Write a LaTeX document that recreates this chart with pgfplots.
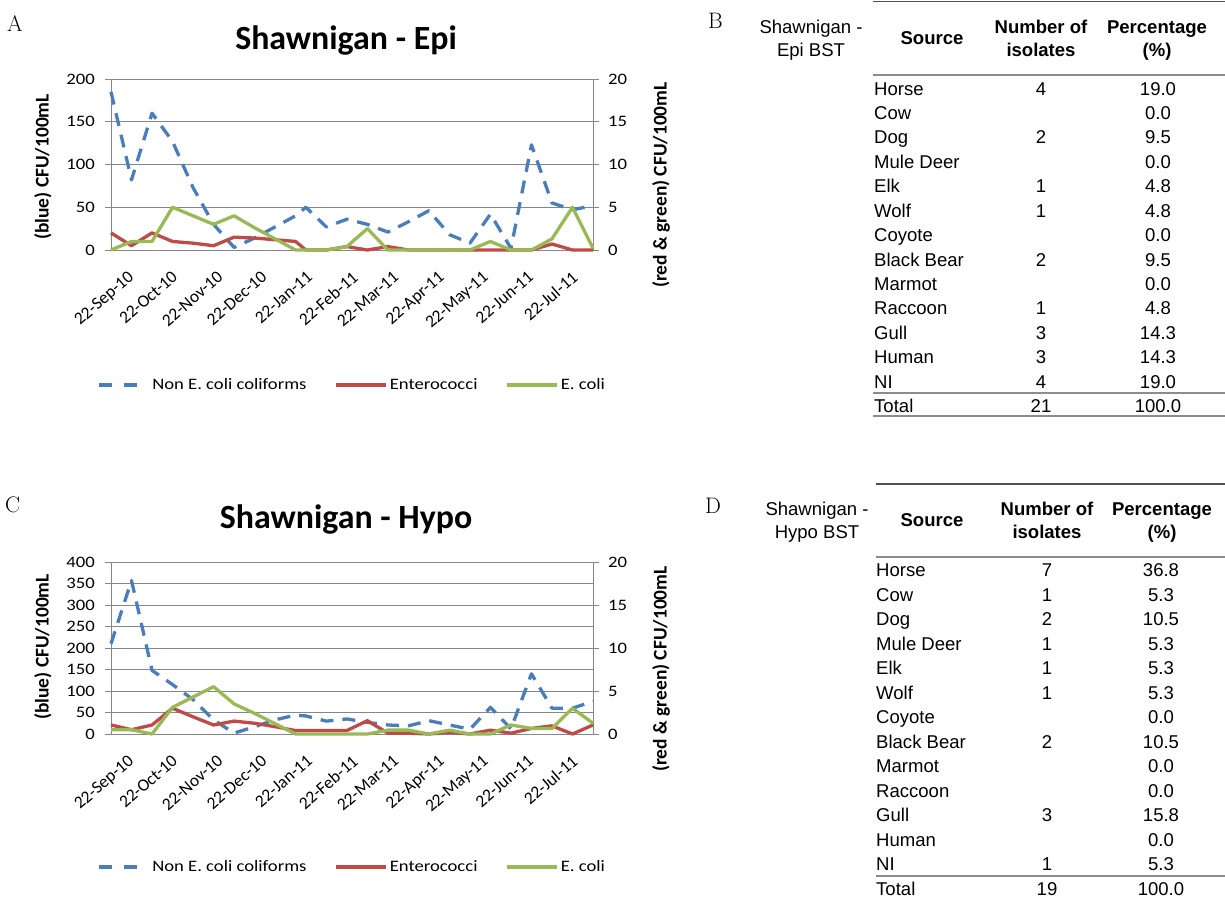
\documentclass[border=0pt]{standalone}
\usepackage{fontspec}
\usepackage{pgfplots}
\pgfplotsset{compat=1.18}
\usepackage{pgfplotstable}
\newfontfamily\carl{Carlito}
\newfontfamily\carlS{Carlito}[FakeStretch=1.17]
\newfontfamily\arialf{Liberation Sans}
\newcommand\tickf{\carlS\fontsize{16}{18}\selectfont}
\newcommand\xtickf{\carl\fontsize{17.5}{20}\selectfont}
\newcommand\legf{\carlS\fontsize{16}{18}\selectfont}
\newcommand\titlef{\carl\bfseries\fontsize{34}{40}\selectfont}
\newcommand\axtf{\carl\bfseries\fontsize{19.5}{22}\selectfont}
\newcommand\panelf{\rmfamily\fontsize{22.5}{26}\selectfont}
\newcommand\tabf{\arialf\fontsize{18.6}{22}\selectfont}
\newcommand\tabbf{\arialf\bfseries\fontsize{18.6}{22}\selectfont}
\definecolor{bluec}{HTML}{4A7EBB}
\definecolor{redc}{HTML}{BE4B48}
\definecolor{greenc}{HTML}{98B954}
\definecolor{axgray}{HTML}{868686}
\definecolor{ruledark}{HTML}{505050}
\definecolor{rulegray}{HTML}{8C8C8C}

\pgfplotstableread{
d    blue red  green
0    185  2.0  0
14   82   0.5  1.0
28   160  2.0  1.0
42   127  1.0  5.0
56   73   0.8  4.0
70   30   0.5  3.0
84   3    1.5  4.0
98   14   1.4  2.6
112  27   1.2  1.3
126  40   1.0  0
133  50   0    0
147  27   0    0
161  36   0.4  0.4
175  30   0    2.5
189  21   0.4  0
203  33   0    0
217  46   0    0
231  18   0    0
245  8    0    0
259  42   0    1.0
273  2    0    0
287  123  0    0
301  55   0.7  1.3
315  47   0    5.0
329  52   0    0.2
}\epi

\pgfplotstableread{
d    blue red  green
0    210  1.05 0.5
14   357  0.5  0.5
28   148  1.05 0
42   115  3.0  3.1
56   80   2.0  4.3
70   33   1.05 5.5
84   2    1.5  3.5
98   17   1.25 2.4
112  33   0.85 1.2
126  44   0.4  0
133  42   0.4  0
147  30   0.4  0
161  35   0.4  0
175  27   1.55 0
189  21   0.1  0.45
203  19   0.1  0.45
217  31   0    0
231  21   0.2  0.45
245  11   0    0
259  62   0.45 0
273  12   0.1  1.05
287  140  0.65 0.65
301  60   0.95 0.65
315  60   0    3.0
329  76   1.05 1.25
}\hypo

\pgfplotsset{
  base/.style={
    width=482bp, scale only axis, anchor=south west,
    xmin=0, xmax=329, ymin=0,
    axis line style={draw=axgray, line width=1bp},
    tick align=outside, major tick length=6bp,
    tick style={draw=axgray, line width=1bp},
    /pgf/number format/assume math mode=true,
    ticklabel style={font=\tickf},
    clip=false,
  },
  leftax/.style={base,
    axis x line*=bottom, axis y line*=left,
    ymajorgrids, grid style={draw=axgray, line width=0.8bp},
    xtick={0,30,61,91,122,153,181,212,242,273,303},
    xticklabels={22-Sep-10,22-Oct-10,22-Nov-10,22-Dec-10,22-Jan-11,22-Feb-11,22-Mar-11,22-Apr-11,22-May-11,22-Jun-11,22-Jul-11},
    x tick style={draw=none},
    xticklabel style={font=\xtickf, rotate=41, anchor=north east, inner sep=0pt, yshift=-21bp, xshift=3bp},
    yticklabel style={anchor=east, inner sep=0pt, xshift=-10bp},
    legend style={draw=none, fill=none, legend columns=3, font=\legf,
      nodes={inner sep=2bp},
      /tikz/every even column/.append style={column sep=26bp}},
    legend cell align=left,
    legend image code/.code={\draw[##1] (0bp,0bp) -- (50bp,0bp);},
  },
  rightax/.style={base,
    axis x line=none, axis y line*=right,
    ymax=20, ytick={0,5,10,15,20},
    yticklabel style={anchor=west, inner sep=0pt, xshift=9bp},
  },
  blueline/.style={bluec, line width=3.3bp, dash pattern=on 13bp off 9bp, line join=round},
  bluelegend/.style={legend image code/.code={\draw[##1, dash pattern=on 13bp off 12bp] (0bp,0bp) -- (38bp,0bp); \path (50bp,0bp);}},
  redline/.style={redc, line width=3.3bp, line join=round},
  greenline/.style={greenc, line width=3.3bp, line join=round},
}

\begin{document}
\begin{tikzpicture}
\path[use as bounding box] (0,0) rectangle (1225bp,-897bp);

% ---------- A: Epi chart ----------
\node[font=\panelf, anchor=base west, inner sep=0pt] at (7bp,-31bp) {A};
\node[font=\titlef, anchor=base, inner sep=0pt] at (346bp,-49bp) {Shawnigan - Epi};
\begin{axis}[leftax, at={(111bp,-250bp)}, height=171bp, ymax=200, ytick={0,50,...,200},
  legend style={at={(0.5,-0.789)}, anchor=center}]
  \addplot[blueline, bluelegend] table[x=d, y=blue] {\epi};
  \addlegendentry{Non E. coli coliforms}
  \addlegendimage{redline}
  \addlegendentry{Enterococci}
  \addlegendimage{greenline}
  \addlegendentry{E. coli}
\end{axis}
\begin{axis}[rightax, at={(111bp,-250bp)}, height=171bp]
  \addplot[redline] table[x=d, y=red] {\epi};
  \addplot[greenline] table[x=d, y=green] {\epi};
\end{axis}
\node[font=\axtf, rotate=90, inner sep=0pt] at (43bp,-167bp) {(blue) CFU/100mL};
\node[font=\axtf, rotate=90, inner sep=0pt] at (661bp,-185bp) {(red \& green) CFU/100mL};

% ---------- C: Hypo chart ----------
\node[font=\panelf, anchor=base west, inner sep=0pt] at (5bp,-512bp) {C};
\node[font=\titlef, anchor=base, inner sep=0pt] at (346bp,-528bp) {Shawnigan - Hypo};
\begin{axis}[leftax, at={(111bp,-734bp)}, height=172bp, ymax=400, ytick={0,50,...,400},
  legend style={at={(0.5,-0.773)}, anchor=center}]
  \addplot[blueline, bluelegend] table[x=d, y=blue] {\hypo};
  \addlegendentry{Non E. coli coliforms}
  \addlegendimage{redline}
  \addlegendentry{Enterococci}
  \addlegendimage{greenline}
  \addlegendentry{E. coli}
\end{axis}
\begin{axis}[rightax, at={(111bp,-734bp)}, height=172bp]
  \addplot[redline] table[x=d, y=red] {\hypo};
  \addplot[greenline] table[x=d, y=green] {\hypo};
\end{axis}
\node[font=\axtf, rotate=90, inner sep=0pt] at (43bp,-647bp) {(blue) CFU/100mL};
\node[font=\axtf, rotate=90, inner sep=0pt] at (661bp,-669bp) {(red \& green) CFU/100mL};

% ---------- B: Epi BST table ----------
\node[font=\panelf, anchor=base west, inner sep=0pt] at (708bp,-28bp) {B};
\node[font=\tabf, anchor=base, inner sep=0pt] at (811bp,-33.3bp) {Shawnigan -};
\node[font=\tabf, anchor=base, inner sep=0pt] at (811bp,-56bp) {Epi BST};
\node[font=\tabbf, anchor=base, inner sep=0pt] at (932bp,-44.3bp) {Source};
\node[font=\tabbf, anchor=base, inner sep=0pt] at (1041bp,-33.3bp) {Number of};
\node[font=\tabbf, anchor=base, inner sep=0pt] at (1041bp,-56bp) {isolates};
\node[font=\tabbf, anchor=base, inner sep=0pt] at (1157bp,-33.3bp) {Percentage};
\node[font=\tabbf, anchor=base, inner sep=0pt] at (1157bp,-56bp) {(\%)};
\draw[ruledark, line width=1.3bp] (873bp,-1.5bp) -- (1225bp,-1.5bp);
\draw[rulegray, line width=2.2bp] (873bp,-75bp) -- (1225bp,-75bp);
\draw[rulegray, line width=2.2bp] (873bp,-392.7bp) -- (1225bp,-392.7bp);
\draw[rulegray, line width=2.2bp] (873bp,-416bp) -- (1225bp,-416bp);
\foreach \n/\a/\p [count=\i from 0] in {Horse/4/19.0, Cow//0.0, Dog/2/9.5, Mule Deer//0.0, Elk/1/4.8, Wolf/1/4.8, Coyote//0.0, Black Bear/2/9.5, Marmot//0.0, Raccoon/1/4.8, Gull/3/14.3, Human/3/14.3, NI/4/19.0} {
  \pgfmathsetmacro\yy{-(95+24.44*\i)}
  \node[font=\tabf, anchor=base west, inner sep=0pt] at (874bp,\yy bp) {\n};
  \node[font=\tabf, anchor=base, inner sep=0pt] at (1041bp,\yy bp) {\a};
  \node[font=\tabf, anchor=base, inner sep=0pt] at (1158bp,\yy bp) {\p};
}
\node[font=\tabf, anchor=base west, inner sep=0pt] at (874bp,-412.7bp) {Total};
\node[font=\tabf, anchor=base, inner sep=0pt] at (1041bp,-412.7bp) {21};
\node[font=\tabf, anchor=base, inner sep=0pt] at (1158bp,-412.7bp) {100.0};

% ---------- D: Hypo BST table ----------
\node[font=\panelf, anchor=base west, inner sep=0pt] at (705bp,-513bp) {D};
\node[font=\tabf, anchor=base, inner sep=0pt] at (817bp,-515bp) {Shawnigan -};
\node[font=\tabf, anchor=base, inner sep=0pt] at (817bp,-538.3bp) {Hypo BST};
\node[font=\tabbf, anchor=base, inner sep=0pt] at (932bp,-526.7bp) {Source};
\node[font=\tabbf, anchor=base, inner sep=0pt] at (1047bp,-515bp) {Number of};
\node[font=\tabbf, anchor=base, inner sep=0pt] at (1047bp,-538.3bp) {isolates};
\node[font=\tabbf, anchor=base, inner sep=0pt] at (1162bp,-515bp) {Percentage};
\node[font=\tabbf, anchor=base, inner sep=0pt] at (1162bp,-538.3bp) {(\%)};
\draw[ruledark, line width=1.3bp] (876bp,-484bp) -- (1225bp,-484bp);
\draw[rulegray, line width=2.2bp] (876bp,-557.3bp) -- (1225bp,-557.3bp);
\draw[rulegray, line width=2.2bp] (876bp,-876bp) -- (1225bp,-876bp);
\draw[rulegray, line width=2.2bp] (876bp,-899bp) -- (1225bp,-899bp);
\foreach \n/\a/\p [count=\i from 0] in {Horse/7/36.8, Cow/1/5.3, Dog/2/10.5, Mule Deer/1/5.3, Elk/1/5.3, Wolf/1/5.3, Coyote//0.0, Black Bear/2/10.5, Marmot//0.0, Raccoon//0.0, Gull/3/15.8, Human//0.0, NI/1/5.3} {
  \pgfmathsetmacro\yy{-(576.7+24.5*\i)}
  \node[font=\tabf, anchor=base west, inner sep=0pt] at (876bp,\yy bp) {\n};
  \node[font=\tabf, anchor=base, inner sep=0pt] at (1047bp,\yy bp) {\a};
  \node[font=\tabf, anchor=base, inner sep=0pt] at (1161bp,\yy bp) {\p};
}
\node[font=\tabf, anchor=base west, inner sep=0pt] at (876bp,-895bp) {Total};
\node[font=\tabf, anchor=base, inner sep=0pt] at (1047bp,-895bp) {19};
\node[font=\tabf, anchor=base, inner sep=0pt] at (1161bp,-895bp) {100.0};
\end{tikzpicture}
\end{document}
